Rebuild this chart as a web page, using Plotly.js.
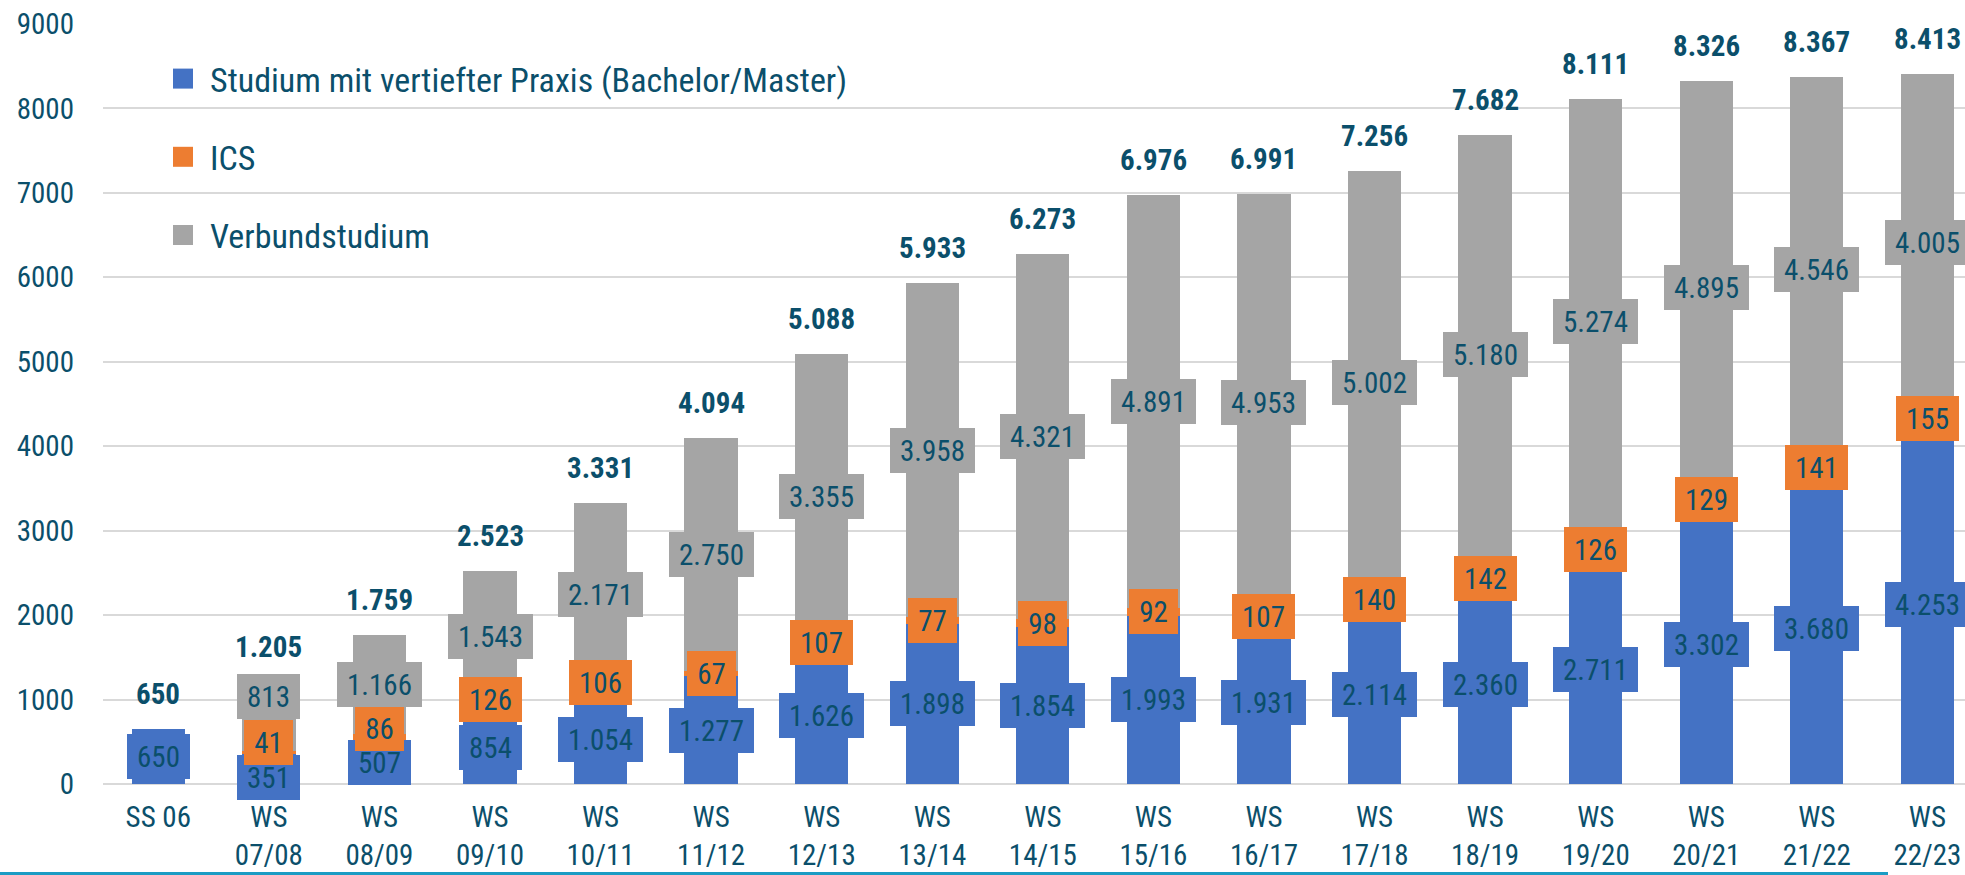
<!DOCTYPE html>
<html><head><meta charset="utf-8">
<script src="https://cdn.plot.ly/plotly-3.0.1.min.js"></script>
<style>html,body{margin:0;padding:0;background:#fff;overflow:hidden}#chart{width:1965px;height:875px}</style>
</head><body><div id="chart"></div>
<script>
// ---- data ----
const categories = ["SS 06","WS<br>07/08","WS<br>08/09","WS<br>09/10","WS<br>10/11","WS<br>11/12","WS<br>12/13","WS<br>13/14","WS<br>14/15","WS<br>15/16","WS<br>16/17","WS<br>17/18","WS<br>18/19","WS<br>19/20","WS<br>20/21","WS<br>21/22","WS<br>22/23"];
const praxis  = [650,351,507,854,1054,1277,1626,1898,1854,1993,1931,2114,2360,2711,3302,3680,4253];
const ics     = [null,41,86,126,106,67,107,77,98,92,107,140,142,126,129,141,155];
const verbund = [null,813,1166,1543,2171,2750,3355,3958,4321,4891,4953,5002,5180,5274,4895,4546,4005];
const totals  = [650,1205,1759,2523,3331,4094,5088,5933,6273,6976,6991,7256,7682,8111,8326,8367,8413];
const seriesNames = ["Studium mit vertiefter Praxis (Bachelor/Master)","ICS","Verbundstudium"];

// ---- style ----
const colors = ["#4472C4","#ED7D31","#A5A5A5"];
const textColor = "#0B4F6B";
const FONT = "'Liberation Sans Narrow','Arial Narrow','Roboto Condensed','DejaVu Sans Condensed',sans-serif";
const LABEL_SIZE = 29;
// manual label nudges in px (as in the original chart), keyed by series index -> category index
const labelNudge = [{1:-8},{1:10,2:9,3:7,4:8},{1:20}];

const fmt = v => String(v).replace(/\B(?=(\d{3})+(?!\d))/g, '.');
const ctx = document.createElement('canvas').getContext('2d');
ctx.font = LABEL_SIZE + 'px ' + FONT;
const textW = s => ctx.measureText(s).width;

const seriesVals = [praxis, ics, verbund];
const traces = seriesVals.map((vals, s) => ({
  type: 'bar', x: categories, y: vals, name: seriesNames[s],
  marker: {color: colors[s], line: {width: 0}},
  legendgroup: 'g' + s, hoverinfo: 'skip'
}));

const annotations = [];
categories.forEach((c, i) => {
  let base = 0;
  seriesVals.forEach((vals, s) => {
    const v = vals[i];
    if (v == null) return;
    const t = fmt(v);
    annotations.push({
      x: c, y: base + v / 2, xref: 'x', yref: 'y', showarrow: false,
      text: t, bgcolor: colors[s], borderpad: 0, borderwidth: 0,
      width: Math.round(textW(t) + 20), height: 45,
      font: {family: FONT, size: LABEL_SIZE, color: textColor},
      yshift: (labelNudge[s][i] || 0)
    });
    base += v;
  });
  annotations.push({
    x: c, y: totals[i], xref: 'x', yref: 'y', showarrow: false, yanchor: 'bottom',
    text: '<b>' + fmt(totals[i]) + '</b>', borderpad: 0, borderwidth: 0, yshift: 18,
    font: {family: FONT, size: LABEL_SIZE, color: textColor}
  });
});

const layout = {
  width: 1965, height: 875,
  margin: {l: 103, r: 0, t: 24, b: 91},
  paper_bgcolor: '#fff', plot_bgcolor: '#fff',
  barmode: 'stack', bargap: 0.518,
  font: {family: FONT, color: textColor, size: LABEL_SIZE},
  xaxis: {type: 'category', range: [-0.5, 16.34], showgrid: false, showline: false, ticks: '',
          tickfont: {family: FONT, size: LABEL_SIZE, color: textColor}, ticklabelstandoff: 13, fixedrange: true},
  yaxis: {range: [0, 9000], dtick: 1000, tickformat: 'd', showgrid: true, gridcolor: '#D9D9D9', gridwidth: 2,
          zeroline: true, zerolinecolor: '#D9D9D9', zerolinewidth: 2, showline: false, ticks: '',
          tickfont: {family: FONT, size: LABEL_SIZE, color: textColor}, ticklabelstandoff: 28, fixedrange: true},
  showlegend: true,
  legend: {x: (170 - 103) / 1862, y: 1 - (50 - 24) / 760, xanchor: 'left', yanchor: 'top',
           bgcolor: 'rgba(0,0,0,0)', traceorder: 'grouped', tracegroupgap: 31, itemwidth: 30,
           font: {family: FONT, size: 34, color: textColor}},
  annotations: annotations,
  shapes: [{type: 'line', xref: 'paper', yref: 'paper', x0: (0 - 103) / 1862, x1: (1888 - 103) / 1862,
            y0: (784 - 873.5) / 760, y1: (784 - 873.5) / 760, line: {color: '#1B9CC4', width: 3}}]
};

Plotly.newPlot('chart', traces, layout, {staticPlot: true, displayModeBar: false}).then(() => {
  // larger square legend symbols (20 px), as in the original
  document.querySelectorAll('.legend .legendpoints path').forEach(p => p.setAttribute('d', 'M3,10H-17V-10H3Z'));
});
</script></body></html>
